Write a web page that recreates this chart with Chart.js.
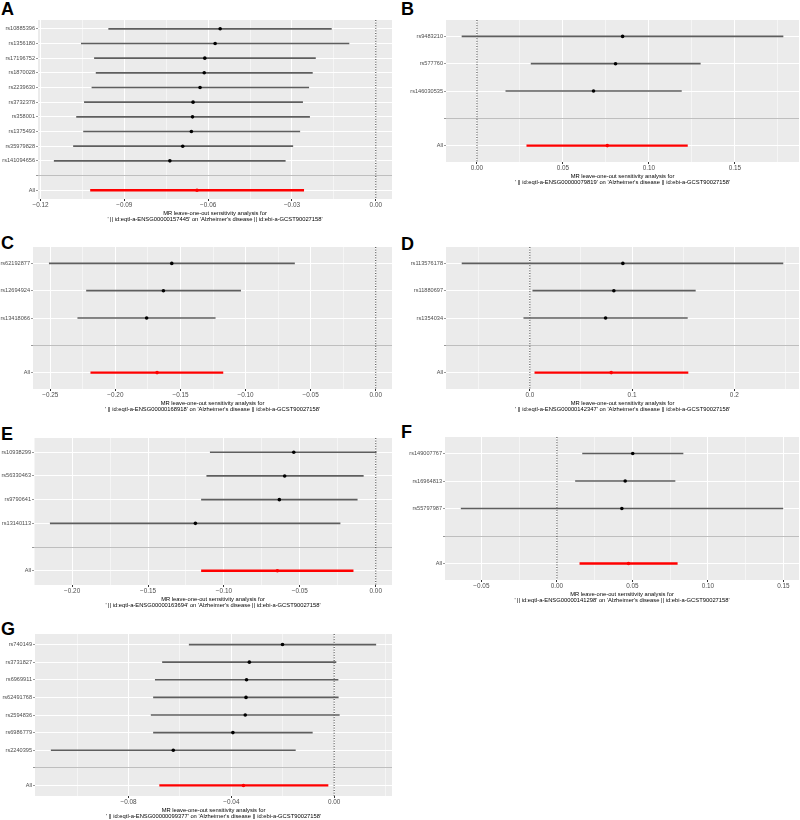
<!DOCTYPE html>
<html>
<head>
<meta charset="utf-8">
<script src="https://cdn.jsdelivr.net/npm/chart.js@4.4.0/dist/chart.umd.min.js"></script>
<style>
  body { margin: 0; background: #fff; }
  #page { position: relative; width: 800px; height: 820px; overflow: hidden; }
  .tag { position: absolute; font: bold 18px/18px 'Liberation Sans', Arial, sans-serif; color: #000; }
  canvas { position: absolute; }
</style>
</head>
<body>
<div id="page"></div>
<script>
// leave-one-out estimates (b), 95% CI (lo, up); "All" = [b, lo, up]
const snpsA = ['rs10885396', 'rs1356180', 'rs17196752', 'rs1870028', 'rs2239630', 'rs3732378', 'rs358001', 'rs1375493', 'rs35979828', 'rs141094656'];
const bA  = [-0.0557, -0.0575, -0.0612, -0.0614, -0.0629, -0.0654, -0.0656, -0.0660, -0.0691, -0.0737];
const loA = [-0.0956, -0.1054, -0.1007, -0.1001, -0.1016, -0.1043, -0.1071, -0.1046, -0.1082, -0.1151];
const upA = [-0.0159, -0.0096, -0.0216, -0.0227, -0.0240, -0.0262, -0.0237, -0.0272, -0.0297, -0.0324];
const allA = [-0.0640, -0.1021, -0.0258];

const snpsB = ['rs9483210', 'rs577760', 'rs146030535'];
const bB  = [0.0847, 0.0806, 0.0678];
const loB = [-0.0087, 0.0315, 0.0168];
const upB = [0.1780, 0.1299, 0.1189];
const allB = [0.0758, 0.0290, 0.1224];

const snpsC = ['rs62192877', 'rs12694924', 'rs13418066'];
const bC  = [-0.1567, -0.1631, -0.1760];
const loC = [-0.2508, -0.2222, -0.2289];
const upC = [-0.0624, -0.1038, -0.1233];
const allC = [-0.1680, -0.2189, -0.1174];

const snpsD = ['rs113576178', 'rs11880697', 'rs1354034'];
const bD  = [0.0910, 0.0822, 0.0741];
const loD = [-0.0663, 0.0029, -0.0059];
const upD = [0.2476, 0.1619, 0.1541];
const allD = [0.0796, 0.0049, 0.1547];

const snpsE = ['rs10938299', 'rs56330463', 'rs9790641', 'rs13140113'];
const bE  = [-0.0540, -0.0600, -0.0635, -0.1188];
const loE = [-0.1090, -0.1113, -0.1148, -0.2144];
const upE = [0.0003, -0.0082, -0.0122, -0.0235];
const allE = [-0.0648, -0.1148, -0.0149];

const snpsF = ['rs149007767', 'rs16964813', 'rs55797987'];
const bF  = [0.0502, 0.0452, 0.0430];
const loF = [0.0170, 0.0123, -0.0634];
const upF = [0.0835, 0.0782, 0.1496];
const allF = [0.0474, 0.0152, 0.0797];

const snpsG = ['rs740149', 'rs3731827', 'rs6969911', 'rs62491768', 'rs2594836', 'rs6986779', 'rs2240395'];
const bG  = [-0.0201, -0.0330, -0.0341, -0.0343, -0.0346, -0.0394, -0.0626];
const loG = [-0.0564, -0.0668, -0.0696, -0.0703, -0.0712, -0.0703, -0.1101];
const upG = [0.0162, 0.0007, 0.0015, 0.0016, 0.0020, -0.0085, -0.0151];
const allG = [-0.0353, -0.0679, -0.0024];

const FONT = "'Liberation Sans', Arial, sans-serif";
const AXIS_H = 24;

const panels = [
  { tag: 'A', gene: 'ENSG00000157445', snps: snpsA, b: bA, lo: loA, up: upA, all: allA,
    xmin: -0.1209, xmax: 0.0058, major: 0.03, dec: 2, left: 0, top: 20, yW: 38, h: 179, padR: 8, tagTop: 0 },
  { tag: 'B', gene: 'ENSG00000079819', snps: snpsB, b: bB, lo: loB, up: upB, all: allB,
    xmin: -0.0180, xmax: 0.1873, major: 0.05, dec: 2, left: 400, top: 20, yW: 46, h: 142, padR: 1, tagTop: 0 },
  { tag: 'C', gene: 'ENSG00000168918', snps: snpsC, b: bC, lo: loC, up: upC, all: allC,
    xmin: -0.2633, xmax: 0.0125, major: 0.05, dec: 2, left: 0, top: 247, yW: 33, h: 142, padR: 8, tagTop: 234 },
  { tag: 'D', gene: 'ENSG00000142347', snps: snpsD, b: bD, lo: loD, up: upD, all: allD,
    xmin: -0.0820, xmax: 0.2633, major: 0.1, dec: 1, left: 400, top: 247, yW: 46, h: 142, padR: 1, tagTop: 235 },
  { tag: 'E', gene: 'ENSG00000163694', snps: snpsE, b: bE, lo: loE, up: upE, all: allE,
    xmin: -0.2251, xmax: 0.0107, major: 0.05, dec: 2, left: 0, top: 438, yW: 34, h: 147, padR: 8, tagTop: 425 },
  { tag: 'F', gene: 'ENSG00000141298', snps: snpsF, b: bF, lo: loF, up: upF, all: allF,
    xmin: -0.0741, xmax: 0.1603, major: 0.05, dec: 2, left: 400, top: 437, yW: 45, h: 143, padR: 1, tagTop: 423 },
  { tag: 'G', gene: 'ENSG00000099377', snps: snpsG, b: bG, lo: loG, up: upG, all: allG,
    xmin: -0.1164, xmax: 0.0225, major: 0.04, dec: 2, left: 0, top: 634, yW: 35, h: 162, padR: 8, tagTop: 620 }
];

const panelBg = {
  id: 'panelBg',
  beforeDraw(chart) {
    const { ctx, chartArea: a } = chart;
    ctx.save();
    ctx.fillStyle = '#EBEBEB';
    ctx.fillRect(a.left, a.top, a.right - a.left, a.bottom - a.top);
    ctx.restore();
  }
};

const zeroLine = {
  id: 'zeroLine',
  beforeDatasetsDraw(chart) {
    const { ctx, chartArea: a } = chart;
    const x = chart.scales.x.getPixelForValue(0);
    ctx.save();
    ctx.strokeStyle = '#000';
    ctx.lineWidth = 0.8;
    ctx.setLineDash([1, 1.6]);
    ctx.beginPath();
    ctx.moveTo(x, a.top);
    ctx.lineTo(x, a.bottom);
    ctx.stroke();
    ctx.restore();
  }
};

const page = document.getElementById('page');

function fmt(v, dec) {
  const s = Math.abs(v).toFixed(dec);
  return v < -1e-9 ? '\u2212' + s : s;
}

function drawPanel(p) {
  const labels = [...p.snps, '', 'All'];
  const est = [...p.b, null, p.all[0]];
  const snpRanges = p.snps.map((s, i) => [p.lo[i], p.up[i]]).concat([null, null]);
  const allRange = p.snps.map(() => null).concat([null, [p.all[1], p.all[2]]]);
  const minor = p.major / 2;
  const isMajor = v => Math.abs(Math.round(v / minor)) % 2 === 0;

  const tag = document.createElement('div');
  tag.className = 'tag';
  tag.textContent = p.tag;
  tag.style.left = (p.left + 1) + 'px';
  tag.style.top = p.tagTop + 'px';
  page.appendChild(tag);

  const canvas = document.createElement('canvas');
  canvas.width = 400;
  canvas.height = p.h + AXIS_H;
  canvas.style.left = p.left + 'px';
  canvas.style.top = p.top + 'px';
  page.appendChild(canvas);

  new Chart(canvas, {
    type: 'bar',
    data: {
      labels: labels,
      datasets: [
        { type: 'line', data: est, showLine: false, order: 0,
          pointRadius: 1.8, pointBorderWidth: 0,
          pointBackgroundColor: labels.map(l => l === 'All' ? '#FF0000' : '#000000') },
        { type: 'bar', data: snpRanges, order: 1, grouped: false,
          barThickness: 1, backgroundColor: '#5E5E5E', borderWidth: 0 },
        { type: 'bar', data: allRange, order: 1, grouped: false,
          barThickness: 1.7, backgroundColor: '#FF0000', borderWidth: 0 }
      ]
    },
    options: {
      indexAxis: 'y',
      responsive: false,
      animation: false,
      layout: { autoPadding: false, padding: { left: 0, right: p.padR, top: 0, bottom: 0 } },
      plugins: { legend: { display: false }, tooltip: { enabled: false } },
      scales: {
        x: {
          type: 'linear',
          min: p.xmin,
          max: p.xmax,
          afterBuildTicks: s => {
            const t = [];
            for (let k = Math.ceil(s.min / minor - 1e-9); k * minor <= s.max + 1e-12; k++) {
              t.push({ value: +(k * minor).toFixed(6) });
            }
            s.ticks = t;
          },
          afterFit: s => { s.height = AXIS_H; s.paddingLeft = 0; s.paddingRight = 0; },
          ticks: {
            autoSkip: false, maxRotation: 0, padding: 0.5,
            color: '#4D4D4D', font: { family: FONT, size: 6.4 },
            callback: v => isMajor(v) ? fmt(v, p.dec) : ''
          },
          grid: {
            color: '#FFFFFF',
            lineWidth: c => (c.tick && isMajor(c.tick.value)) ? 1 : 0.5,
            drawTicks: true, tickLength: 2,
            tickColor: c => (c.tick && isMajor(c.tick.value)) ? '#333333' : 'rgba(0,0,0,0)'
          },
          border: { display: false },
          title: {
            display: true,
            text: ['MR leave-one-out sensitivity analysis for',
                   "' || id:eqtl-a-" + p.gene + "' on 'Alzheimer's disease || id:ebi-a-GCST90027158'"],
            color: '#000', font: { family: FONT, size: 5.8, lineHeight: 1.15 },
            padding: { top: 0, bottom: 0 }
          }
        },
        y: {
          type: 'category',
          offset: true,
          afterBuildTicks: s => {
            // ggplot-style discrete expansion of 0.6 category units on each end
            s._startValue = s.min - 0.6;
            s._valueRange = s.max - s.min + 1.2;
          },
          afterFit: s => { s.width = p.yW; s.paddingTop = 0; s.paddingBottom = 0; },
          ticks: {
            autoSkip: false, padding: 1,
            color: '#4D4D4D', font: { family: FONT, size: 5.6 }
          },
          grid: {
            offset: false,
            color: c => (c.tick && c.tick.label === '') ? '#BEBEBE' : '#FFFFFF',
            lineWidth: 1,
            drawTicks: true, tickLength: 2, tickWidth: 0.5, tickColor: '#333333'
          },
          border: { display: false }
        }
      }
    },
    plugins: [panelBg, zeroLine]
  });
}

panels.forEach(drawPanel);
</script>
</body>
</html>
